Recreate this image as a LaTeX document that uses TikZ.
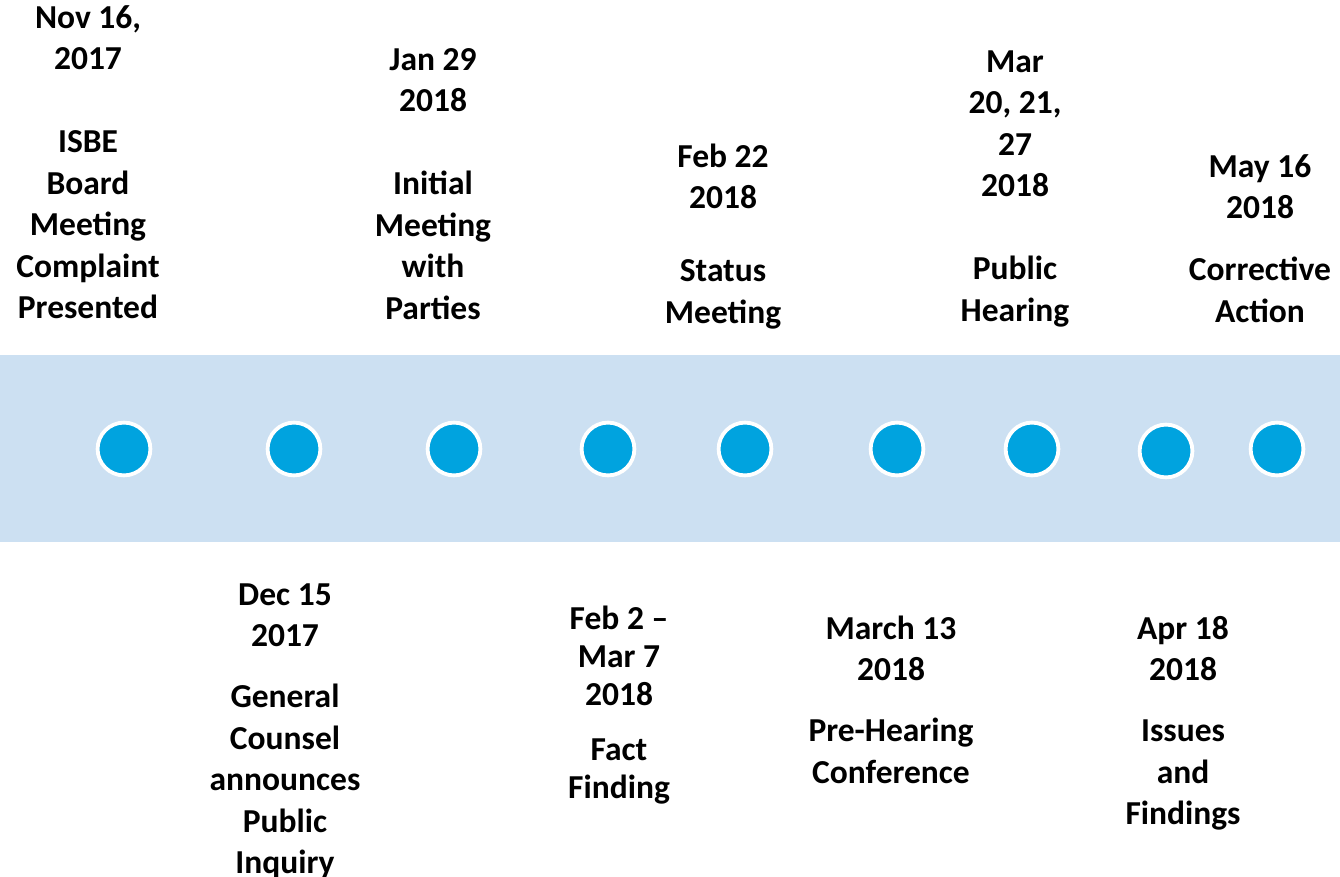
\documentclass[tikz,border=0pt]{standalone}
\usepackage{fontspec}
\setmainfont{Carlito}
\definecolor{bandblue}{RGB}{204,224,242}
\definecolor{dotblue}{RGB}{0,163,223}
\newcommand{\tstrut}{\rule{0pt}{24pt}}
\begin{document}
\begin{tikzpicture}[x=1pt,y=-1pt,
  lbl/.style={anchor=north, inner sep=0pt, align=center, text=black,
    font=\bfseries\fontsize{33.5}{41.5}\selectfont},
  lbltight/.style={lbl, font=\bfseries\fontsize{33.5}{38}\selectfont},
  dot/.style={circle, fill=dotblue, draw=white, line width=3.8pt,
    minimum size=52.8pt, inner sep=0pt}]
\useasboundingbox (0,0) rectangle (1340,877);
\fill[bandblue] (0,355) rectangle (1340,542);
% dots
\node[dot] (d1) at (124,449) {};
\node[dot] (d2) at (294,449) {};
\node[dot] (d3) at (454,449) {};
\node[dot] (d4) at (608,449) {};
\node[dot] (d5) at (745,449) {};
\node[dot] (d6) at (897,449) {};
\node[dot] (d7) at (1032,449) {};
\node[dot] (d8) at (1166,451) {};
\node[dot] (d9) at (1277,449) {};
% top labels
\node[lbl] (g1) at (88,4) {\tstrut Nov 16,\\2017\\[41.5pt]ISBE\\Board\\Meeting\\Complaint\\Presented};
\node[lbl] (g2) at (433,46) {\tstrut Jan 29\\2018\\[41.5pt]Initial\\Meeting\\with\\Parties};
\node[lbl] (g3) at (723,143) {\tstrut Feb 22\\2018\\[31.5pt]Status\\Meeting};
\node[lbl] (g4) at (1015,48) {\tstrut Mar\\20, 21,\\27\\2018\\[41.5pt]Public\\Hearing};
\node[lbl] (g5) at (1260,153) {\tstrut May 16\\2018\\[20.5pt]Corrective\\Action};
% bottom labels
\node[lbl] (g6) at (285,581) {\tstrut Dec 15\\2017\\[19.5pt]General\\Counsel\\announces\\Public\\Inquiry};
\node[lbltight] (g7) at (619,605) {\tstrut Feb 2 –\\Mar 7\\2018\\[17pt]Fact\\Finding};
\node[lbl] (g8) at (891,615) {\tstrut March 13\\2018\\[19.5pt]Pre-Hearing\\Conference};
\node[lbl] (g9) at (1183,615) {\tstrut Apr 18\\2018\\[19.5pt]Issues\\and\\Findings};
\end{tikzpicture}
\end{document}
